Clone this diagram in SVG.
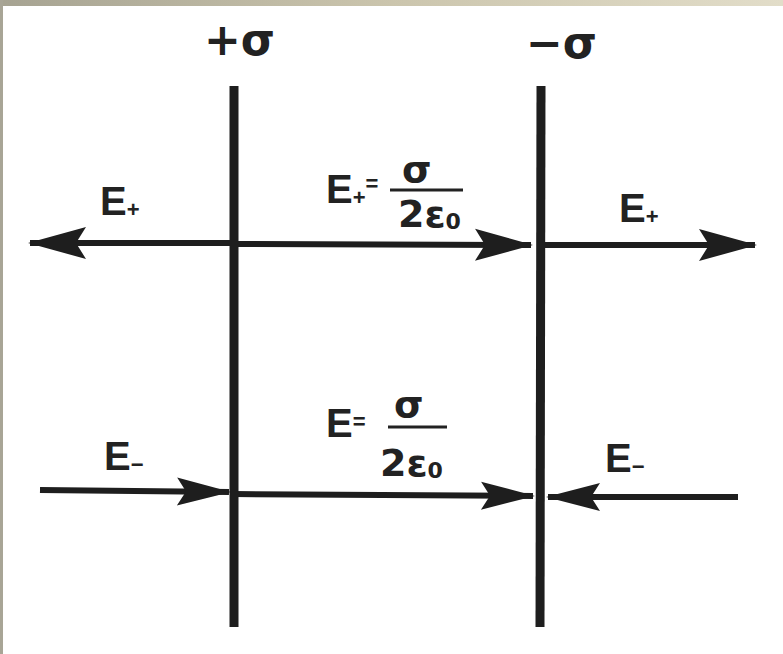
<svg xmlns="http://www.w3.org/2000/svg" width="783" height="654" viewBox="0 0 783 654">
<style>
.plate{stroke:#1e1e1e;stroke-width:9;stroke-linecap:butt}
.fl{stroke:#1e1e1e;stroke-width:6;fill:none}
.E{font-family:"Liberation Sans",Arial,sans-serif;font-weight:bold;font-size:40px;fill:#222}
.sub{font-size:22px}
.sig{font-family:"DejaVu Sans","Liberation Sans",sans-serif;font-size:44px;font-weight:bold;fill:#222}
.frac{font-family:"DejaVu Sans","Liberation Sans",sans-serif;font-size:38px;font-weight:bold;fill:#222}
.bar{stroke:#222;stroke-width:3}
</style>
<defs>
<linearGradient id="topbar" x1="0" y1="0" x2="1" y2="0">
<stop offset="0" stop-color="#a6a392"/>
<stop offset="0.5" stop-color="#cbc5ad"/>
<stop offset="1" stop-color="#e2ddc9"/>
</linearGradient>
<marker id="ah" markerUnits="userSpaceOnUse" markerWidth="64" markerHeight="40" viewBox="-58 -20 64 40" refX="0" refY="0" orient="auto">
<path d="M2,0 L-56,-16 L-46,0 L-56,16 Z" fill="#1e1e1e"/>
</marker>
<marker id="ahs" markerUnits="userSpaceOnUse" markerWidth="60" markerHeight="36" viewBox="-54 -18 60 36" refX="0" refY="0" orient="auto">
<path d="M2,0 L-52,-14 L-43,0 L-52,14 Z" fill="#1e1e1e"/>
</marker>
</defs>
<rect width="783" height="654" fill="#ffffff"/>
<rect x="0" y="0" width="783" height="6" fill="url(#topbar)"/>
<rect x="0" y="0" width="3" height="654" fill="#a8a596"/>

<g id="plate-positive">
<line class="plate" x1="234" y1="86" x2="234" y2="627"/>
<text class="sig" x="204" y="55">+σ</text>
</g>
<g id="plate-negative">
<line class="plate" x1="541" y1="86" x2="540" y2="627"/>
<text class="sig" x="526" y="58">−σ</text>
</g>

<g id="connectors">
<line class="fl" x1="236" y1="243" x2="30" y2="243" marker-end="url(#ah)"/>
<line class="fl" x1="234" y1="244" x2="531" y2="245" marker-end="url(#ah)"/>
<line class="fl" x1="541" y1="245" x2="755" y2="245" marker-end="url(#ah)"/>
<line class="fl" x1="40" y1="490" x2="229" y2="492" marker-end="url(#ahs)"/>
<line class="fl" x1="234" y1="494" x2="533" y2="496" marker-end="url(#ahs)"/>
<line class="fl" x1="738" y1="497" x2="548" y2="497" marker-end="url(#ahs)"/>
</g>

<g id="label-top-left">
<text class="E" x="100" y="215">E<tspan class="sub" dy="2">+</tspan></text>
</g>
<g id="label-top-middle">
<text class="E" x="326" y="203">E<tspan class="sub" dy="2">+</tspan><tspan class="sub" dy="-14">=</tspan></text>
<text class="frac" x="402" y="182">σ</text>
<line class="bar" x1="390" y1="190" x2="463" y2="190"/>
<text class="frac" x="398" y="227">2ε<tspan class="sub" dy="2">0</tspan></text>
</g>
<g id="label-top-right">
<text class="E" x="619" y="222">E<tspan class="sub" dy="2">+</tspan></text>
</g>
<g id="label-bottom-left">
<text class="E" x="104" y="470">E<tspan class="sub" dy="2">−</tspan></text>
</g>
<g id="label-bottom-middle">
<text class="E" x="326" y="437">E<tspan class="sub" dy="-8">=</tspan></text>
<text class="frac" x="394" y="417">σ</text>
<line class="bar" x1="388" y1="427" x2="447" y2="427"/>
<text class="frac" x="380" y="476">2ε<tspan class="sub" dy="2">0</tspan></text>
</g>
<g id="label-bottom-right">
<text class="E" x="605" y="472">E<tspan class="sub" dy="2">−</tspan></text>
</g>
</svg>
